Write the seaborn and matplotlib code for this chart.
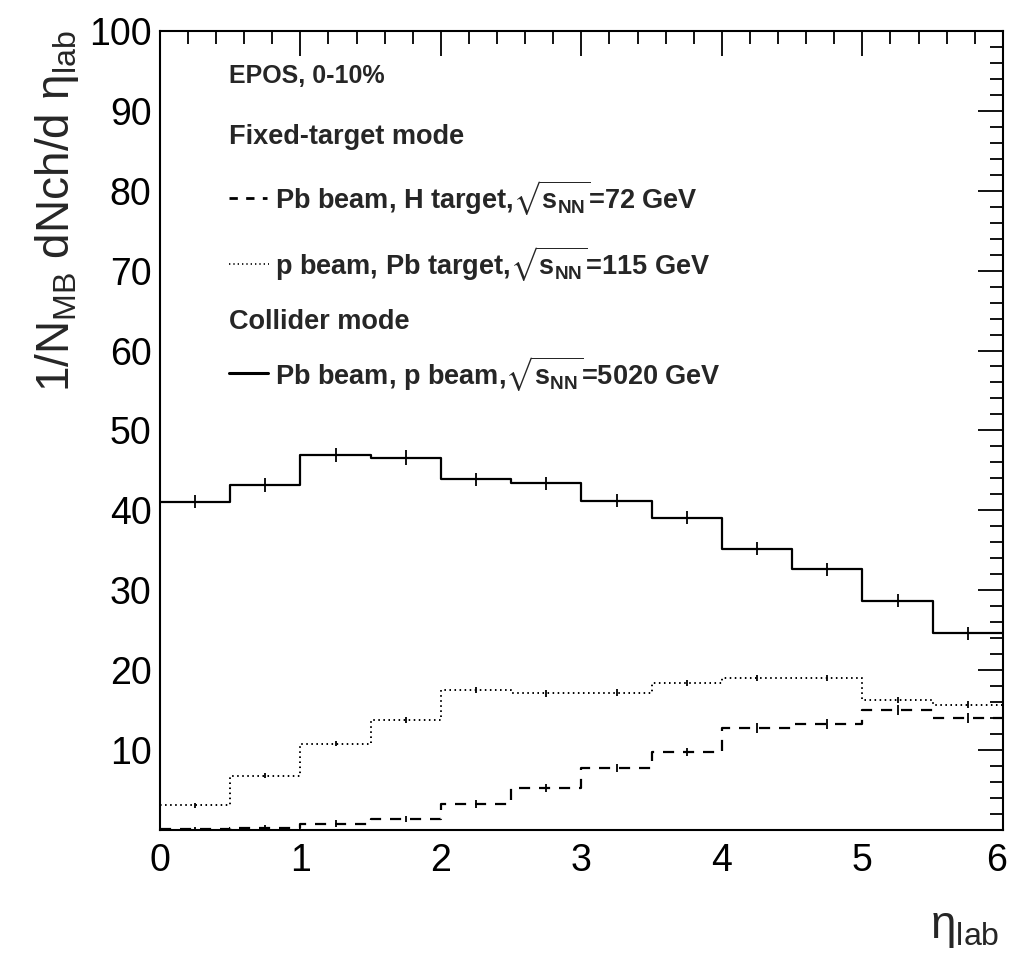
import numpy as np
import pandas as pd
import matplotlib
matplotlib.use("Agg")
import matplotlib.pyplot as plt
import matplotlib.transforms as mtransforms
import seaborn as sns
from matplotlib.ticker import MultipleLocator, FixedLocator

# ---------------- data ----------------
bin_edges = [0.0, 0.5, 1.0, 1.5, 2.0, 2.5, 3.0, 3.5, 4.0, 4.5, 5.0, 5.5, 6.0]
collider = [41.1, 43.2, 46.9, 46.6, 43.9, 43.4, 41.2, 39.1, 35.2, 32.6, 28.7, 24.6]
collider_err = [0.8, 0.9, 0.9, 0.9, 0.8, 0.8, 0.8, 0.8, 0.8, 0.8, 0.8, 0.8]
pbeam_pb = [3.1, 6.8, 10.8, 13.8, 17.5, 17.1, 17.2, 18.4, 19.0, 19.0, 16.3, 15.7]
pbeam_pb_err = [0.3, 0.3, 0.3, 0.4, 0.4, 0.4, 0.4, 0.4, 0.4, 0.4, 0.4, 0.4]
pb_htarget = [0.1, 0.3, 0.8, 1.4, 3.3, 5.2, 7.8, 9.8, 12.8, 13.3, 15.0, 14.0]
pb_htarget_err = [0.3, 0.3, 0.4, 0.4, 0.5, 0.5, 0.5, 0.5, 0.6, 0.6, 0.6, 0.6]
y_ticks = [10, 20, 30, 40, 50, 60, 70, 80, 90, 100]
x_ticks = [0, 1, 2, 3, 4, 5, 6]

header1 = "EPOS, 0-10%"
header2 = "Fixed-target mode"
header3 = "Collider mode"
lab_dash = r"Pb beam, H target,$\sqrt{\mathbf{s}_{\mathbf{NN}}}$=72 GeV"
lab_dot = r"p beam, Pb target,$\sqrt{\mathbf{s}_{\mathbf{NN}}}$=115 GeV"
lab_solid = r"Pb beam, p beam,$\sqrt{\mathbf{s}_{\mathbf{NN}}}$=5020 GeV"

# ---------------- style ----------------
sns.set_style("white")
plt.rcParams["font.family"] = ["Liberation Sans", "DejaVu Sans"]
plt.rcParams["mathtext.fontset"] = "custom"
plt.rcParams["mathtext.rm"] = "Liberation Sans"
plt.rcParams["mathtext.it"] = "Liberation Sans"
plt.rcParams["mathtext.bf"] = "Liberation Sans:bold"
plt.rcParams["mathtext.fallback"] = "stixsans"

centers = [(a + b) / 2 for a, b in zip(bin_edges[:-1], bin_edges[1:])]

fig = plt.figure(figsize=(10.12, 9.64), dpi=100)
ax = fig.add_axes([0.158, 0.139, 0.833, 0.829])

lw = 1.6
series = [
    (collider, collider_err, "-", lw),
    (pbeam_pb, pbeam_pb_err, (0, (0.8, 1.8)), 1.4),
    (pb_htarget, pb_htarget_err, (0, (5, 4)), lw),
]
for vals, errs, ls, w in series:
    df = pd.DataFrame({"eta": centers, "val": vals})
    sns.histplot(data=df, x="eta", weights="val", bins=list(bin_edges), element="step",
                 fill=False, color="black", linestyle=ls, linewidth=w, ax=ax)
    ax.errorbar(centers, vals, yerr=errs, fmt="none", ecolor="black",
                elinewidth=1.3, capsize=0)

ax.set_xlim(0, 6)
ax.set_ylim(0, 100)
ax.xaxis.set_major_locator(FixedLocator(x_ticks))
ax.xaxis.set_minor_locator(MultipleLocator(0.2))
ax.yaxis.set_major_locator(FixedLocator(y_ticks))
ax.yaxis.set_minor_locator(MultipleLocator(2))
ax.set_xticklabels([str(t) for t in x_ticks])
ax.set_yticklabels([str(t) for t in y_ticks])
ax.tick_params(axis="both", which="both", direction="in", top=True, right=True,
               labelsize=27, width=1.3, color="black", labelcolor="black")
ax.tick_params(axis="both", which="major", length=18)
ax.tick_params(axis="both", which="minor", length=9.5)
ax.tick_params(axis="x", which="major", pad=9)
ax.tick_params(axis="y", which="major", pad=6)
for sp in ax.spines.values():
    sp.set_linewidth(1.5)
    sp.set_color("black")

# keep last x tick label inside the canvas
last_lab = ax.get_xticklabels()[-1]
last_lab.set_transform(last_lab.get_transform() +
                       mtransforms.ScaledTranslation(-6 / 100, 0, fig.dpi_scale_trans))

ax.set_ylabel(r"1/N$_{\mathrm{MB}}$ dNch/d η$_{\mathrm{lab}}$", fontsize=33, loc="top")
ax.yaxis.set_label_coords(-0.093, 1.0)
ax.set_xlabel(r"η$_{\mathrm{lab}}$", fontsize=33, loc="right")
ax.xaxis.set_label_coords(0.996, -0.095)

# ---------------- legend ----------------
fs = 19.5
x_head = 0.082
x_txt = 0.136
ax.text(x_head, 0.935, header1, transform=ax.transAxes, fontsize=fs - 1.5, fontweight="bold", va="baseline")
ax.text(x_head, 0.859, header2, transform=ax.transAxes, fontsize=fs, fontweight="bold", va="baseline")
ax.text(x_txt, 0.777, lab_dash, transform=ax.transAxes, fontsize=fs, fontweight="bold", va="baseline")
ax.text(x_txt, 0.695, lab_dot, transform=ax.transAxes, fontsize=fs, fontweight="bold", va="baseline")
ax.text(x_head, 0.627, header3, transform=ax.transAxes, fontsize=fs, fontweight="bold", va="baseline")
ax.text(x_txt, 0.557, lab_solid, transform=ax.transAxes, fontsize=fs, fontweight="bold", va="baseline")
ax.plot([0.082, 0.127], [0.791, 0.791], transform=ax.transAxes, color="black",
        linestyle=(0, (3, 3)), linewidth=2.0)
ax.plot([0.082, 0.129], [0.708, 0.708], transform=ax.transAxes, color="black",
        linestyle=(0, (0.8, 1.8)), linewidth=1.2)
ax.plot([0.082, 0.128], [0.572, 0.572], transform=ax.transAxes, color="black",
        linestyle="-", linewidth=2.2)

fig.savefig("out.png", dpi=100)
